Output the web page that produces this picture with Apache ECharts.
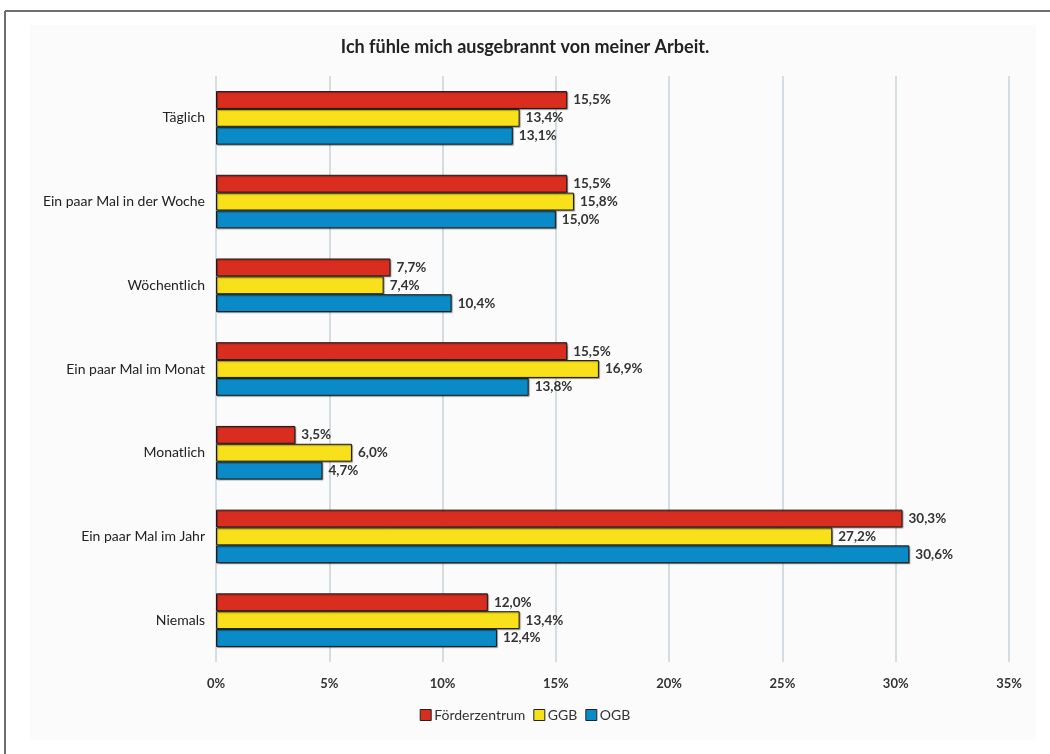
<!DOCTYPE html>
<html>
<head>
<meta charset="utf-8">
<script src="https://cdn.jsdelivr.net/npm/echarts@6/dist/echarts.min.js"></script>
<style>
html,body{margin:0;padding:0;background:#fff;}
#chart{width:1050px;height:754px;}
</style>
</head>
<body>
<div id="chart"></div>
<script>
const title = 'Ich fühle mich ausgebrannt von meiner Arbeit.';
const categories = ['Täglich', 'Ein paar Mal in der Woche', 'Wöchentlich', 'Ein paar Mal im Monat', 'Monatlich', 'Ein paar Mal im Jahr', 'Niemals'];
const seriesNames = ['Förderzentrum', 'GGB', 'OGB'];
const foerderzentrum = [15.5, 15.5, 7.7, 15.5, 3.5, 30.3, 12.0];
const ggb = [13.4, 15.8, 7.4, 16.9, 6.0, 27.2, 13.4];
const ogb = [13.1, 15.0, 10.4, 13.8, 4.7, 30.6, 12.4];
const xTicks = [0, 5, 10, 15, 20, 25, 30, 35];

const colors = ['#d92d1f', '#f8e01a', '#0a8bc8'];
const font = 'Lato, "Open Sans", sans-serif';
const seriesData = [foerderzentrum, ggb, ogb];

const chart = echarts.init(document.getElementById('chart'), null, {renderer: 'canvas'});
chart.setOption({
  animation: false,
  backgroundColor: '#ffffff',
  graphic: [
    {type: 'rect', z: -10, shape: {x: 30, y: 25, width: 1006, height: 715}, style: {fill: '#fbfbfb'}},
    {type: 'line', z: -5, shape: {x1: 5, y1: 11, x2: 1050, y2: 11}, style: {stroke: '#6f6f6f', lineWidth: 2}},
    {type: 'line', z: -5, shape: {x1: 5, y1: 11, x2: 5, y2: 754}, style: {stroke: '#6f6f6f', lineWidth: 2}}
  ],
  title: {
    text: title,
    left: 'center',
    top: 33,
    textStyle: {fontFamily: font, fontSize: 18, fontWeight: 'bold', color: '#222'}
  },
  legend: {
    data: seriesNames,
    bottom: 27,
    left: 'center',
    icon: 'rect',
    itemWidth: 11,
    itemHeight: 11,
    itemGap: 8,
    textStyle: {fontFamily: font, fontSize: 14, color: '#333', padding: [0, 0, 0, -2]},
    itemStyle: {borderColor: '#222', borderWidth: 1}
  },
  grid: {left: 216, right: 41, top: 76, bottom: 92},
  xAxis: {
    type: 'value',
    min: xTicks[0],
    max: xTicks[xTicks.length - 1],
    interval: 5,
    axisLine: {show: false},
    axisTick: {show: false},
    axisLabel: {formatter: '{value}%', fontFamily: font, fontSize: 13, fontWeight: 'bold', color: '#333', margin: 15},
    splitLine: {show: true, lineStyle: {color: '#d3dde2', width: 2}}
  },
  yAxis: {
    type: 'category',
    data: categories,
    inverse: true,
    axisLine: {show: false},
    axisTick: {show: false},
    axisLabel: {fontFamily: font, fontSize: 14, color: '#222', margin: 11}
  },
  series: seriesNames.map((name, i) => ({
    name: name,
    type: 'bar',
    data: seriesData[i],
    barGap: '0%',
    barCategoryGap: '36%',
    itemStyle: {
      color: colors[i],
      borderColor: '#1a1a1a',
      borderWidth: 1,
      shadowColor: 'rgba(0,0,0,0.35)',
      shadowOffsetX: 1,
      shadowOffsetY: 1,
      shadowBlur: 1
    },
    label: {
      show: true,
      position: 'right',
      distance: 6,
      formatter: p => p.value.toFixed(1).replace('.', ',') + '%',
      fontFamily: font,
      fontSize: 13.5,
      fontWeight: 'bold',
      color: '#333'
    }
  }))
});
</script>
</body>
</html>
